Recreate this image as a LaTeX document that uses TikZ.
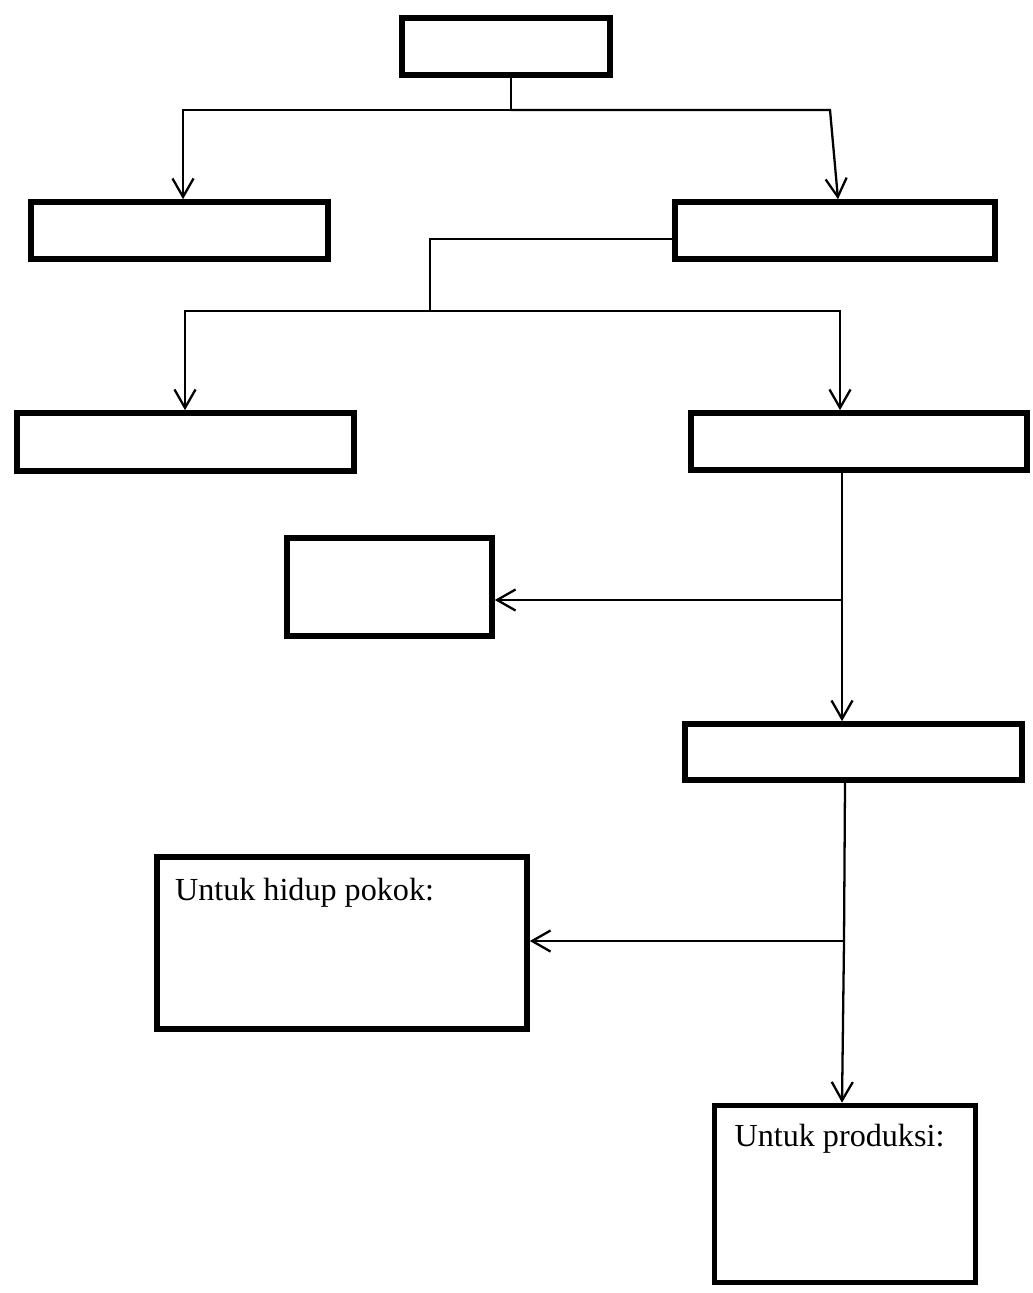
\documentclass[tikz,border=0pt]{standalone}
\usepackage{fontspec}
\setmainfont{Liberation Serif}
\usetikzlibrary{arrows.meta}
\begin{document}
\begin{tikzpicture}[x=0.02cm, y=-0.02cm,
  box/.style={draw, rectangle, line width=3.2pt, inner sep=0pt},
  conn/.style={line width=1.3pt},
  lbl/.style={inner sep=0pt, font=\fontsize{18.3pt}{22pt}\selectfont},
  >={Straight Barb[length=10.5pt, width=12pt]}]
\useasboundingbox (0,0) rectangle (1033,1293);
% boxes
\node (top) [box, minimum width=208*0.02cm, minimum height=57*0.02cm] at (506,46.5) {};
\node (lt) [box, minimum width=297*0.02cm, minimum height=57*0.02cm] at (179.5,230.5) {};
\node (rt) [box, minimum width=320*0.02cm, minimum height=57*0.02cm] at (835,230.5) {};
\node (ml) [box, minimum width=337*0.02cm, minimum height=58*0.02cm] at (185.5,442) {};
\node (mr) [box, minimum width=336*0.02cm, minimum height=57*0.02cm] at (859,441.5) {};
\node (sm) [box, minimum width=205*0.02cm, minimum height=98*0.02cm] at (389.5,587) {};
\node (st) [box, minimum width=337*0.02cm, minimum height=56*0.02cm] at (853.5,752) {};
\node (hp) [box, minimum width=370*0.02cm, minimum height=172*0.02cm] at (342,943) {};
\node (pr) [box, minimum width=261*0.02cm, minimum height=177*0.02cm] at (845,1194) {};
\node (hpt) [lbl, anchor=base west] at ([xshift=0.41cm, yshift=-0.93cm]hp.north west) {Untuk hidup pokok:};
\node (prt) [lbl, anchor=base west] at ([xshift=0.45cm, yshift=-0.87cm]pr.north west) {Untuk produksi:};
% connectors
\draw[conn] (top.south -| 511,0) -- (511,110) coordinate (j1);
\draw[conn, ->] (j1) -| (lt.north -| 183,0);
\draw[conn, ->] (j1) -- (830,110) -- (rt.north -| 838,0);
\draw[conn] (rt.west |- 0,239) -- (430,239) -- (430,311) coordinate (j2);
\draw[conn, ->] (j2) -| (ml.north -| 185,0);
\draw[conn, ->] (j2) -| (mr.north -| 840,0);
\draw[conn] (mr.south -| 842,0) -- (842,600) coordinate (j3);
\draw[conn, ->] (j3) -- (sm.east |- j3);
\draw[conn, ->] (j3) -- (st.north -| 842,0);
\draw[conn] (st.south -| 845,0) -- (844,941) coordinate (j4);
\draw[conn, ->] (j4) -- (hp.east |- j4);
\draw[conn, ->] (j4) -- (pr.north -| 842,0);
\end{tikzpicture}
\end{document}
